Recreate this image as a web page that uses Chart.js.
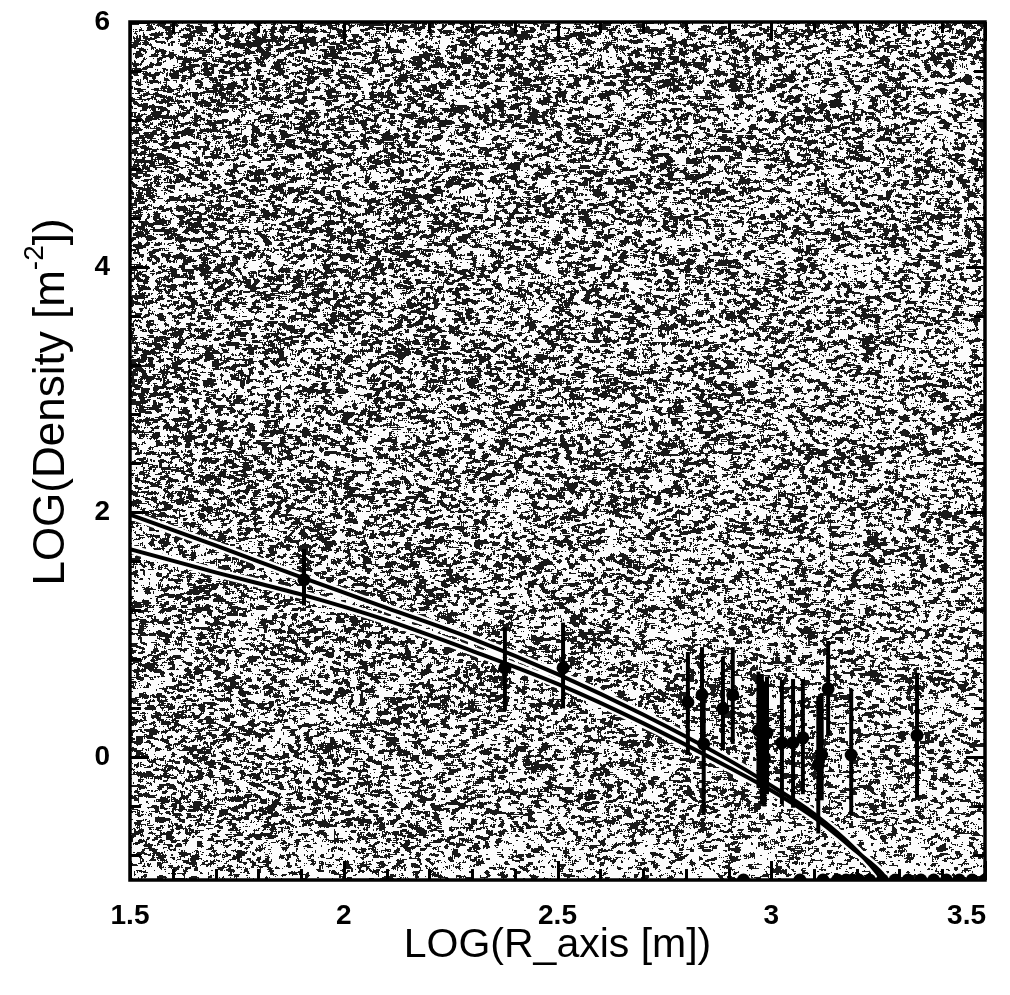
<!DOCTYPE html>
<html>
<head>
<meta charset="utf-8">
<script src="https://cdn.jsdelivr.net/npm/chart.js@4/dist/chart.umd.min.js"></script>
<style>
  html, body { margin: 0; padding: 0; background: #fff; }
  #wrap { width: 1010px; height: 995px; }
</style>
</head>
<body>
<div id="wrap"><canvas id="c" width="1010" height="995"></canvas></div>
<script>
// Axis ranges and tick values
const xRange = [1.5, 3.5];
const yRange = [-1, 6];
const xTickValues = [1.5, 2, 2.5, 3, 3.5];
const yTickValues = [0, 2, 4, 6];
const xMinorStep = 0.1;
const yMinorStep = 0.4;

// Model profiles: LOG(Density) versus LOG(R_axis)
const curveX     = [1.5, 1.7, 1.9, 2.1, 2.3, 2.5, 2.7, 2.9, 3.0, 3.1, 3.2, 3.26, 3.27];
const curveUpper = [1.98, 1.73, 1.47, 1.22, 0.97, 0.68, 0.35, -0.02, -0.23, -0.46, -0.76, -1.0, -1.06];
const curveLower = [1.70, 1.51, 1.33, 1.12, 0.87, 0.60, 0.28, -0.08, -0.27, -0.49, -0.77, -0.95, -1.0];

// Measured densities with error bar limits
const obsX  = [1.907, 2.377, 2.513, 2.805, 2.838, 2.842, 2.887, 2.910, 2.970, 2.978, 2.984, 2.990, 3.025, 3.051, 3.074, 3.110, 3.118, 3.133, 3.187, 3.341];
const obsY  = [1.45, 0.73, 0.73, 0.45, 0.51, 0.11, 0.40, 0.51, 0.22, 0.10, 0.00, 0.20, 0.12, 0.12, 0.16, -0.06, 0.02, 0.56, 0.02, 0.18];
const obsHi = [1.70, 1.06, 1.10, 0.86, 0.90, 0.50, 0.82, 0.90, 0.70, 0.68, 0.62, 0.66, 0.63, 0.64, 0.64, 0.50, 0.52, 0.95, 0.56, 0.69];
const obsLo = [1.24, 0.38, 0.40, 0.02, 0.15, -0.47, 0.06, 0.11, -0.25, -0.38, -0.40, -0.30, -0.38, -0.41, -0.30, -0.62, -0.35, 0.18, -0.47, -0.33];

// Non-detections plotted on the lower edge
const limitX = [2.935, 3.067, 3.121, 3.155, 3.175, 3.19, 3.205, 3.23, 3.26, 3.29, 3.32, 3.35, 3.38, 3.41, 3.44, 3.47, 3.50];
const limitY = limitX.map(() => yRange[0]);

const FONT = "'Liberation Sans', Arial, Helvetica, sans-serif";
const TICK_FONT = 'bold 28px ' + FONT;

// Stippled plot-area background (deterministic dither)
function hash2(x, y) {
  let h = Math.imul(x, 374761393) + Math.imul(y, 668265263) | 0;
  h = Math.imul(h ^ (h >>> 13), 1274126177);
  h = h ^ (h >>> 16);
  return (h >>> 0) / 4294967296;
}
let stippleCache = null;
function buildStipple(ctx, w, h) {
  const n = new Float32Array(w * h);
  for (let y = 0; y < h; y++) for (let x = 0; x < w; x++) n[y * w + x] = hash2(x + 17, y + 5);
  const img = ctx.createImageData(w, h);
  const d = img.data;
  const sd = 0.2887 / Math.sqrt(15);
  for (let y = 0; y < h; y++) {
    for (let x = 0; x < w; x++) {
      let s = 0, c = 0;
      for (let dy = -1; dy <= 1; dy++) {
        const yy = y + dy; if (yy < 0 || yy >= h) continue;
        for (let dx = -2; dx <= 2; dx++) {
          const xx = x + dx; if (xx < 0 || xx >= w) continue;
          s += n[yy * w + xx]; c++;
        }
      }
      const b = s / c;
      const u = x / w, v = y / h;
      let p = 0.52 - 0.10 * u - 0.09 * v;
      if (v > 0.94) p -= 0.18 * (v - 0.94) / 0.06;
      p = Math.max(0.12, Math.min(0.7, p));
      const thr = 0.5 + sd * 2.5 * (p - 0.5);
      const k = (y * w + x) * 4;
      const val = b < thr ? 25 : 252;
      d[k] = d[k + 1] = d[k + 2] = val; d[k + 3] = 255;
    }
  }
  return img;
}
const stipplePlugin = {
  id: 'stipple',
  beforeDraw(chart) {
    const a = chart.chartArea, ctx = chart.ctx;
    const w = Math.round(a.right - a.left), h = Math.round(a.bottom - a.top);
    if (!stippleCache || stippleCache.width !== w || stippleCache.height !== h) {
      stippleCache = buildStipple(ctx, w, h);
    }
    ctx.putImageData(stippleCache, Math.round(a.left), Math.round(a.top));
  }
};

// Vertical error bars
const errorBarPlugin = {
  id: 'errorBars',
  beforeDatasetsDraw(chart) {
    const ctx = chart.ctx, xs = chart.scales.x, ys = chart.scales.y, a = chart.chartArea;
    ctx.save();
    ctx.beginPath();
    ctx.rect(a.left, a.top, a.right - a.left, a.bottom - a.top);
    ctx.clip();
    ctx.lineCap = 'butt';
    ctx.strokeStyle = '#000';
    ctx.lineWidth = 4;
    for (let i = 0; i < obsX.length; i++) {
      const px = xs.getPixelForValue(obsX[i]);
      ctx.beginPath();
      ctx.moveTo(px, ys.getPixelForValue(obsHi[i]));
      ctx.lineTo(px, ys.getPixelForValue(obsLo[i]));
      ctx.stroke();
    }
    ctx.restore();
  }
};

// White casing under the model curves
const casingPlugin = {
  id: 'casing',
  beforeDatasetsDraw(chart) {
    const ctx = chart.ctx, a = chart.chartArea;
    ctx.save();
    ctx.beginPath();
    ctx.rect(a.left, a.top, a.right - a.left, a.bottom - a.top);
    ctx.clip();
    [2, 3].forEach(di => {
      const pts = chart.getDatasetMeta(di).data;
      ctx.beginPath();
      pts.forEach((p, i) => {
        if (i === 0) ctx.moveTo(p.x, p.y);
        else {
          const prev = pts[i - 1];
          if (prev.cp2x !== undefined && p.cp1x !== undefined) ctx.bezierCurveTo(prev.cp2x, prev.cp2y, p.cp1x, p.cp1y, p.x, p.y);
          else ctx.lineTo(p.x, p.y);
        }
      });
      ctx.strokeStyle = '#fff';
      ctx.lineWidth = 9;
      ctx.stroke();
    });
    ctx.restore();
  }
};

// Frame with inward major and minor ticks on all four sides, plus x tick labels
const framePlugin = {
  id: 'frame',
  afterDatasetsDraw(chart) {
    const ctx = chart.ctx, xs = chart.scales.x, ys = chart.scales.y, a = chart.chartArea;
    ctx.save();
    ctx.strokeStyle = '#000';
    ctx.lineWidth = 3;
    const majorLen = 19, minorLen = 11;
    const nx = Math.round((xRange[1] - xRange[0]) / xMinorStep);
    for (let i = 0; i <= nx; i++) {
      const v = xRange[0] + i * xMinorStep;
      const major = xTickValues.some(t => Math.abs(t - v) < 1e-6);
      const len = major ? majorLen : minorLen;
      const px = Math.round(xs.getPixelForValue(v)) + 0.5;
      ctx.beginPath();
      ctx.moveTo(px, a.bottom); ctx.lineTo(px, a.bottom - len);
      ctx.moveTo(px, a.top); ctx.lineTo(px, a.top + len);
      ctx.stroke();
    }
    for (let v = yTickValues[0] - Math.floor((yTickValues[0] - yRange[0]) / yMinorStep) * yMinorStep; v <= yRange[1] + 1e-6; v += yMinorStep) {
      const major = yTickValues.some(t => Math.abs(t - v) < 1e-6);
      const len = major ? majorLen : minorLen;
      const py = Math.round(ys.getPixelForValue(v)) + 0.5;
      ctx.beginPath();
      ctx.moveTo(a.left, py); ctx.lineTo(a.left + len, py);
      ctx.moveTo(a.right, py); ctx.lineTo(a.right - len, py);
      ctx.stroke();
    }
    ctx.lineWidth = 3.5;
    ctx.strokeRect(a.left, a.top, a.right - a.left, a.bottom - a.top);

    // x tick labels; the last one is kept inside the frame's right edge
    ctx.font = TICK_FONT;
    ctx.fillStyle = '#000';
    ctx.textBaseline = 'top';
    xTickValues.forEach((v, i) => {
      const px = xs.getPixelForValue(v);
      const last = i === xTickValues.length - 1;
      ctx.textAlign = last ? 'right' : 'center';
      ctx.fillText(String(v), last ? a.right + 1 : px, a.bottom + 22);
    });
    ctx.restore();
  }
};

// Y axis title with superscript unit
const yTitlePlugin = {
  id: 'yTitle',
  afterDraw(chart) {
    const ctx = chart.ctx;
    const parts = [
      { t: 'LOG(Density [m', size: 44, dy: 0 },
      { t: '-2', size: 28, dy: -17 },
      { t: '])', size: 44, dy: 0 }
    ];
    ctx.save();
    let total = 0;
    parts.forEach(p => { ctx.font = p.size + 'px ' + FONT; p.w = ctx.measureText(p.t).width; total += p.w; });
    ctx.translate(50, 402);
    ctx.rotate(-Math.PI / 2);
    ctx.fillStyle = '#000';
    ctx.textBaseline = 'middle';
    let x = -total / 2;
    parts.forEach(p => {
      ctx.font = p.size + 'px ' + FONT;
      ctx.fillText(p.t, x, p.dy + 2);
      x += p.w;
    });
    ctx.restore();
  }
};

// Keep the plot box fixed regardless of edge labels
function zeroScalePadding(s) {
  s.paddingLeft = 0; s.paddingRight = 0; s.paddingTop = 0; s.paddingBottom = 0;
}

const ctx = document.getElementById('c').getContext('2d');
new Chart(ctx, {
  type: 'scatter',
  data: {
    datasets: [
      {
        label: 'Observed',
        data: obsX.map((x, i) => ({ x, y: obsY[i] })),
        pointRadius: 6.5,
        pointHoverRadius: 6.5,
        backgroundColor: '#000',
        borderWidth: 0,
        clip: 0
      },
      {
        label: 'Non-detections',
        data: limitX.map((x, i) => ({ x, y: limitY[i] })),
        pointRadius: 6.5,
        backgroundColor: '#000',
        borderWidth: 0,
        clip: 0
      },
      {
        label: 'Model upper',
        type: 'line',
        data: curveX.map((x, i) => ({ x, y: curveUpper[i] })),
        borderColor: '#000',
        borderWidth: 4,
        pointRadius: 0,
        fill: false,
        cubicInterpolationMode: 'monotone',
        clip: 0
      },
      {
        label: 'Model lower',
        type: 'line',
        data: curveX.map((x, i) => ({ x, y: curveLower[i] })),
        borderColor: '#000',
        borderWidth: 4,
        pointRadius: 0,
        fill: false,
        cubicInterpolationMode: 'monotone',
        clip: 0
      }
    ]
  },
  options: {
    responsive: false,
    animation: false,
    devicePixelRatio: 1,
    layout: { padding: { left: 0, right: 25, top: 22, bottom: 0 } },
    plugins: { legend: { display: false }, tooltip: { enabled: false } },
    scales: {
      x: {
        type: 'linear',
        min: xRange[0], max: xRange[1],
        afterBuildTicks: s => { s.ticks = xTickValues.map(v => ({ value: v })); },
        afterFit: s => { s.height = 115; zeroScalePadding(s); },
        ticks: { display: false },
        grid: { display: false, drawTicks: false },
        border: { display: false },
        title: {
          display: true,
          text: 'LOG(R_axis [m])',
          color: '#000',
          font: { family: FONT, size: 41 },
          padding: { top: 0, bottom: 25 }
        }
      },
      y: {
        type: 'linear',
        min: yRange[0], max: yRange[1],
        afterBuildTicks: s => { s.ticks = yTickValues.map(v => ({ value: v })); },
        afterFit: s => { s.width = 130; zeroScalePadding(s); },
        ticks: {
          color: '#000',
          font: { family: FONT, size: 28, weight: 'bold' },
          padding: 20,
          autoSkip: false,
          callback: v => String(v)
        },
        grid: { display: false, drawTicks: false },
        border: { display: false }
      }
    }
  },
  plugins: [stipplePlugin, casingPlugin, errorBarPlugin, framePlugin, yTitlePlugin]
});
</script>
</body>
</html>
